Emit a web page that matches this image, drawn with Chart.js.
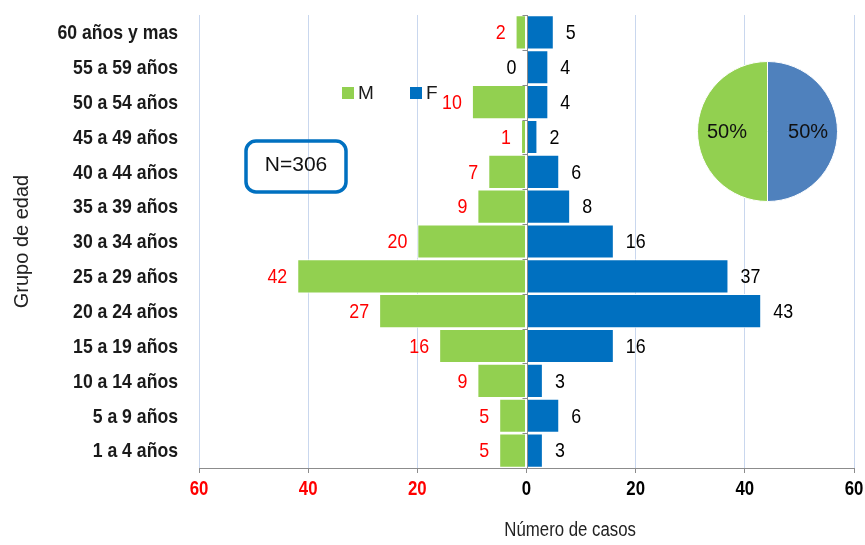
<!DOCTYPE html>
<html>
<head>
<meta charset="utf-8">
<script src="https://cdn.jsdelivr.net/npm/chart.js@4/dist/chart.umd.min.js"></script>
<style>
  html, body { margin: 0; padding: 0; background: #ffffff; }
  #wrap { position: relative; width: 865px; height: 545px; overflow: hidden; }
  #main { position: absolute; left: 0; top: 0; }
  #pieBox { position: absolute; left: 697px; top: 61px; width: 141px; height: 141px; }
</style>
</head>
<body>
<div id="wrap">
  <canvas id="main" width="865" height="545"></canvas>
  <div id="pieBox"><canvas id="pie"></canvas></div>
</div>
<script>
// Age groups, top to bottom
const ageGroups = [
  '60 años y mas', '55 a 59 años', '50 a 54 años', '45 a 49 años',
  '40 a 44 años', '35 a 39 años', '30 a 34 años', '25 a 29 años',
  '20 a 24 años', '15 a 19 años', '10 a 14 años', '5 a 9 años', '1 a 4 años'
];
// Cases per group
const male   = [2, 0, 10, 1, 7, 9, 20, 42, 27, 16, 9, 5, 5];
const female = [5, 4, 4, 2, 6, 8, 16, 37, 43, 16, 3, 6, 3];
const seriesNames = ['M', 'F'];
const xTicks = [-60, -40, -20, 0, 20, 40, 60];

const GREEN = '#92d050';
const BLUE = '#0070c0';
const PIE_BLUE = '#4f81bd';
const RED = '#ff0000';
const FONT = '"Liberation Sans", Arial, sans-serif';

const sumM = male.reduce((a, b) => a + b, 0);
const sumF = female.reduce((a, b) => a + b, 0);
const total = sumM + sumF;

// condensed text: the face is squeezed horizontally by sx
function narrowText(ctx, text, x, y, align, font, color, sx) {
  ctx.save();
  ctx.translate(x, y);
  ctx.scale(sx, 1);
  ctx.font = font;
  ctx.fillStyle = color;
  ctx.textAlign = align;
  ctx.textBaseline = 'middle';
  ctx.fillText(text, 0, 0);
  ctx.restore();
}

// value labels beside each bar end
const barLabels = {
  id: 'barLabels',
  afterDatasetsDraw(chart) {
    const ctx = chart.ctx;
    const font = `21px ${FONT}`;
    chart.data.datasets.forEach((ds, di) => {
      const meta = chart.getDatasetMeta(di);
      const src = di === 0 ? male : female;
      meta.data.forEach((el, i) => {
        const v = src[i];
        if (di === 0) {
          narrowText(ctx, String(v), el.x - 10, el.y + 1, 'right', font, v > 0 ? RED : '#000000', 0.85);
        } else {
          narrowText(ctx, String(v), el.x + 12, el.y + 1, 'left', font, '#000000', 0.85);
        }
      });
    });
  }
};

// axis labels in the condensed face
const axisText = {
  id: 'axisText',
  afterDraw(chart) {
    const ctx = chart.ctx;
    const ys = chart.scales.y;
    const xs = chart.scales.x;
    ys.ticks.forEach((t, i) => {
      narrowText(ctx, chart.data.labels[t.value], ys.right - 21, ys.getPixelForTick(i) + 1,
                 'right', `bold 21px ${FONT}`, '#1a1a1a', 0.84);
    });
    xs.ticks.forEach((t, i) => {
      narrowText(ctx, String(Math.abs(t.value)), xs.getPixelForTick(i), xs.top + 21,
                 'center', `bold 20px ${FONT}`, t.value < 0 ? RED : '#000000', 0.84);
    });
    narrowText(ctx, 'Número de casos', xs.getPixelForValue(8), xs.top + 62,
               'center', `20px ${FONT}`, '#222222', 0.84);
  }
};

// zero axis with category separators, legend and the N box
const decorations = {
  id: 'decorations',
  afterDatasetsDraw(chart) {
    const ctx = chart.ctx;
    const area = chart.chartArea;
    const xs = chart.scales.x;
    const x0 = Math.round(xs.getPixelForValue(0)) + 0.5;
    ctx.save();
    ctx.strokeStyle = '#8c8c8c';
    ctx.lineWidth = 1;
    ctx.beginPath();
    ctx.moveTo(x0, area.top);
    ctx.lineTo(x0, area.bottom);
    const n = ageGroups.length;
    const step = (area.bottom - area.top) / n;
    for (let i = 0; i <= n; i++) {
      const y = Math.round(area.top + i * step) + 0.5;
      ctx.moveTo(x0 - 5, y);
      ctx.lineTo(x0, y);
    }
    ctx.stroke();

    // legend
    ctx.font = `19px ${FONT}`;
    ctx.textBaseline = 'middle';
    ctx.textAlign = 'left';
    const legendItems = [
      { x: 342, color: chart.data.datasets[0].backgroundColor, text: chart.data.datasets[0].label },
      { x: 410, color: chart.data.datasets[1].backgroundColor, text: chart.data.datasets[1].label }
    ];
    legendItems.forEach(it => {
      ctx.fillStyle = it.color;
      ctx.fillRect(it.x, 87, 12, 12);
      ctx.fillStyle = '#1a1a1a';
      ctx.fillText(it.text, it.x + 16, 94);
    });

    // N box
    ctx.strokeStyle = BLUE;
    ctx.lineWidth = 3.5;
    ctx.beginPath();
    ctx.roundRect(246, 141, 100, 51, 10);
    ctx.stroke();
    ctx.fillStyle = '#111111';
    ctx.font = `21px ${FONT}`;
    ctx.textAlign = 'center';
    ctx.fillText('N=' + total, 296, 165);
    ctx.restore();
  }
};

new Chart(document.getElementById('main'), {
  type: 'bar',
  data: {
    labels: ageGroups,
    datasets: [
      { label: seriesNames[0], data: male.map(v => -v), backgroundColor: GREEN,
        borderColor: '#ffffff', borderWidth: 1, borderSkipped: false },
      { label: seriesNames[1], data: female, backgroundColor: BLUE,
        borderColor: '#ffffff', borderWidth: 1, borderSkipped: false }
    ]
  },
  options: {
    indexAxis: 'y',
    responsive: false,
    animation: false,
    devicePixelRatio: 1,
    barPercentage: 0.98,
    categoryPercentage: 1,
    layout: { padding: { top: 15, right: 11, left: 0, bottom: 0 } },
    plugins: { legend: { display: false }, tooltip: { enabled: false } },
    scales: {
      x: {
        stacked: true,
        min: xTicks[0],
        max: xTicks[xTicks.length - 1],
        afterBuildTicks: s => { s.ticks = xTicks.map(v => ({ value: v })); },
        afterFit: s => { s.height = 77; s.paddingLeft = 0; s.paddingRight = 0; },
        ticks: { display: false },
        grid: {
          color: c => (c.tick && c.tick.value === 0 ? 'rgba(0,0,0,0)' : '#c9d7ee'),
          tickColor: '#8c8c8c',
          tickLength: 5
        },
        border: { color: '#8c8c8c', width: 1 }
      },
      y: {
        stacked: true,
        afterFit: s => { s.width = 199; s.paddingTop = 0; s.paddingBottom = 0; },
        grid: { display: false, drawTicks: false },
        border: { display: false },
        ticks: { display: false },
        title: {
          display: true,
          text: 'Grupo de edad',
          font: { family: FONT, size: 20 },
          color: '#222222',
          padding: { top: 10, bottom: 0 }
        }
      }
    }
  },
  plugins: [barLabels, decorations, axisText]
});

// share of cases by sex
const pieLabels = {
  id: 'pieLabels',
  afterDatasetsDraw(chart) {
    const ctx = chart.ctx;
    const meta = chart.getDatasetMeta(0);
    const vals = chart.data.datasets[0].data;
    const sum = vals.reduce((a, b) => a + b, 0);
    ctx.save();
    ctx.font = `20px ${FONT}`;
    ctx.fillStyle = '#111111';
    ctx.textAlign = 'center';
    ctx.textBaseline = 'middle';
    meta.data.forEach((arc, i) => {
      const mid = (arc.startAngle + arc.endAngle) / 2;
      const r = arc.outerRadius * 0.58;
      ctx.fillText(Math.round(vals[i] / sum * 100) + '%',
                   arc.x + Math.cos(mid) * r, arc.y + Math.sin(mid) * r + 1);
    });
    ctx.restore();
  }
};

new Chart(document.getElementById('pie'), {
  type: 'pie',
  data: {
    labels: [seriesNames[1], seriesNames[0]],
    datasets: [{
      data: [sumF, sumM],
      backgroundColor: [PIE_BLUE, GREEN],
      borderColor: '#ffffff',
      borderWidth: 1
    }]
  },
  options: {
    responsive: true,
    maintainAspectRatio: false,
    animation: false,
    devicePixelRatio: 1,
    layout: { padding: 0 },
    plugins: { legend: { display: false }, tooltip: { enabled: false } }
  },
  plugins: [pieLabels]
});
</script>
</body>
</html>
